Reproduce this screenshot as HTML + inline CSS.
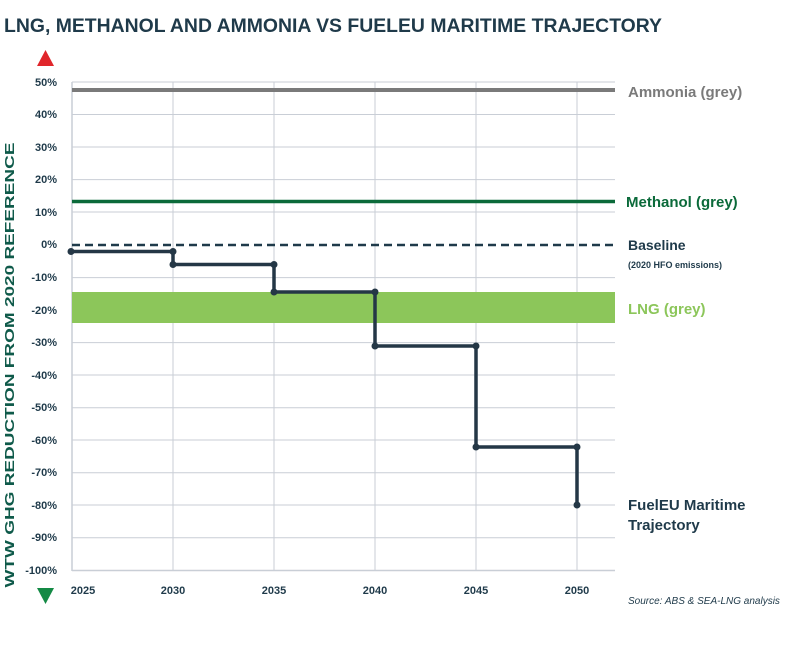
<!DOCTYPE html>
<html><head><meta charset="utf-8"><style>
body{margin:0;background:#fff;}
svg text{font-family:"Liberation Sans",sans-serif;}
</style></head><body>
<svg width="800" height="666" viewBox="0 0 800 666" xmlns="http://www.w3.org/2000/svg">
<text x="4" y="32" font-size="19" font-weight="bold" fill="#1f3a4a" textLength="658" lengthAdjust="spacingAndGlyphs">LNG, METHANOL AND AMMONIA VS FUELEU MARITIME TRAJECTORY</text>
<polygon points="37,66 54,66 45.5,50" fill="#e0262b"/>
<polygon points="37,588 54,588 45.5,604" fill="#148a45"/>
<g stroke="#c9ced6" stroke-width="1">
<line x1="72" y1="82" x2="615" y2="82"/><line x1="72" y1="114.5" x2="615" y2="114.5"/><line x1="72" y1="147" x2="615" y2="147"/><line x1="72" y1="179.6" x2="615" y2="179.6"/><line x1="72" y1="212" x2="615" y2="212"/><line x1="72" y1="277.6" x2="615" y2="277.6"/><line x1="72" y1="310" x2="615" y2="310"/><line x1="72" y1="342.6" x2="615" y2="342.6"/><line x1="72" y1="375" x2="615" y2="375"/><line x1="72" y1="407.7" x2="615" y2="407.7"/><line x1="72" y1="440" x2="615" y2="440"/><line x1="72" y1="472.7" x2="615" y2="472.7"/><line x1="72" y1="505" x2="615" y2="505"/><line x1="72" y1="537.7" x2="615" y2="537.7"/>
<line x1="173" y1="82" x2="173" y2="571"/><line x1="274" y1="82" x2="274" y2="571"/><line x1="375" y1="82" x2="375" y2="571"/><line x1="476" y1="82" x2="476" y2="571"/><line x1="577" y1="82" x2="577" y2="571"/>
</g>
<line x1="72" y1="82" x2="72" y2="571" stroke="#c9ced6" stroke-width="1.5"/>
<line x1="72" y1="570.5" x2="615" y2="570.5" stroke="#c9ced6" stroke-width="1.5"/>
<g font-size="11" font-weight="bold" fill="#1f3a4a" text-anchor="end">
<text x="57" y="86">50%</text><text x="57" y="118">40%</text><text x="57" y="151">30%</text><text x="57" y="183">20%</text><text x="57" y="216">10%</text><text x="57" y="248">0%</text><text x="57" y="281">-10%</text><text x="57" y="314">-20%</text><text x="57" y="346">-30%</text><text x="57" y="379">-40%</text><text x="57" y="411">-50%</text><text x="57" y="444">-60%</text><text x="57" y="476">-70%</text><text x="57" y="509">-80%</text><text x="57" y="541">-90%</text><text x="57" y="574">-100%</text>
</g>
<g font-size="11" font-weight="bold" fill="#1f3a4a" text-anchor="middle">
<text x="83" y="594">2025</text><text x="173" y="594">2030</text><text x="274" y="594">2035</text><text x="375" y="594">2040</text><text x="476" y="594">2045</text><text x="577" y="594">2050</text>
</g>
<text transform="translate(14,365) rotate(-90)" font-size="13" font-weight="bold" fill="#0f5a4a" text-anchor="middle" textLength="445" lengthAdjust="spacingAndGlyphs">WTW GHG REDUCTION FROM 2020 REFERENCE</text>
<rect x="72" y="292" width="543" height="31" fill="#8cc65a"/>
<line x1="72" y1="90" x2="615" y2="90" stroke="#7a7a7a" stroke-width="4"/>
<line x1="72" y1="201.5" x2="615" y2="201.5" stroke="#0b6a3a" stroke-width="3.5"/>
<line x1="72" y1="245" x2="615" y2="245" stroke="#1f3a4a" stroke-width="2.5" stroke-dasharray="8,5"/>
<polyline points="71,251.5 173,251.5 173,264.5 274,264.5 274,292 375,292 375,346 476,346 476,447 577,447 577,505" fill="none" stroke="#243746" stroke-width="3.5"/>
<g fill="#243746"><circle cx="71" cy="251.5" r="3.5"/><circle cx="173" cy="251.5" r="3.5"/><circle cx="173" cy="264.5" r="3.5"/><circle cx="274" cy="264.5" r="3.5"/><circle cx="274" cy="292" r="3.5"/><circle cx="375" cy="292" r="3.5"/><circle cx="375" cy="346" r="3.5"/><circle cx="476" cy="346" r="3.5"/><circle cx="476" cy="447" r="3.5"/><circle cx="577" cy="447" r="3.5"/><circle cx="577" cy="505" r="3.5"/></g>
<text x="628" y="97" font-size="15" font-weight="bold" fill="#7a7a7a">Ammonia (grey)</text>
<text x="626" y="207" font-size="15" font-weight="bold" fill="#0b6a3a">Methanol (grey)</text>
<text x="628" y="250" font-size="14" font-weight="bold" fill="#1f3a4a">Baseline</text>
<text x="628" y="268" font-size="9" font-weight="bold" fill="#1f3a4a">(2020 HFO emissions)</text>
<text x="628" y="314" font-size="15" font-weight="bold" fill="#8cc65a">LNG (grey)</text>
<text x="628" y="510" font-size="15" font-weight="bold" fill="#1f3a4a">FuelEU Maritime</text>
<text x="628" y="530" font-size="15" font-weight="bold" fill="#1f3a4a">Trajectory</text>
<text x="628" y="604" font-size="10" font-style="italic" fill="#1f3a4a">Source: ABS &amp; SEA-LNG analysis</text>
</svg>
</body></html>
